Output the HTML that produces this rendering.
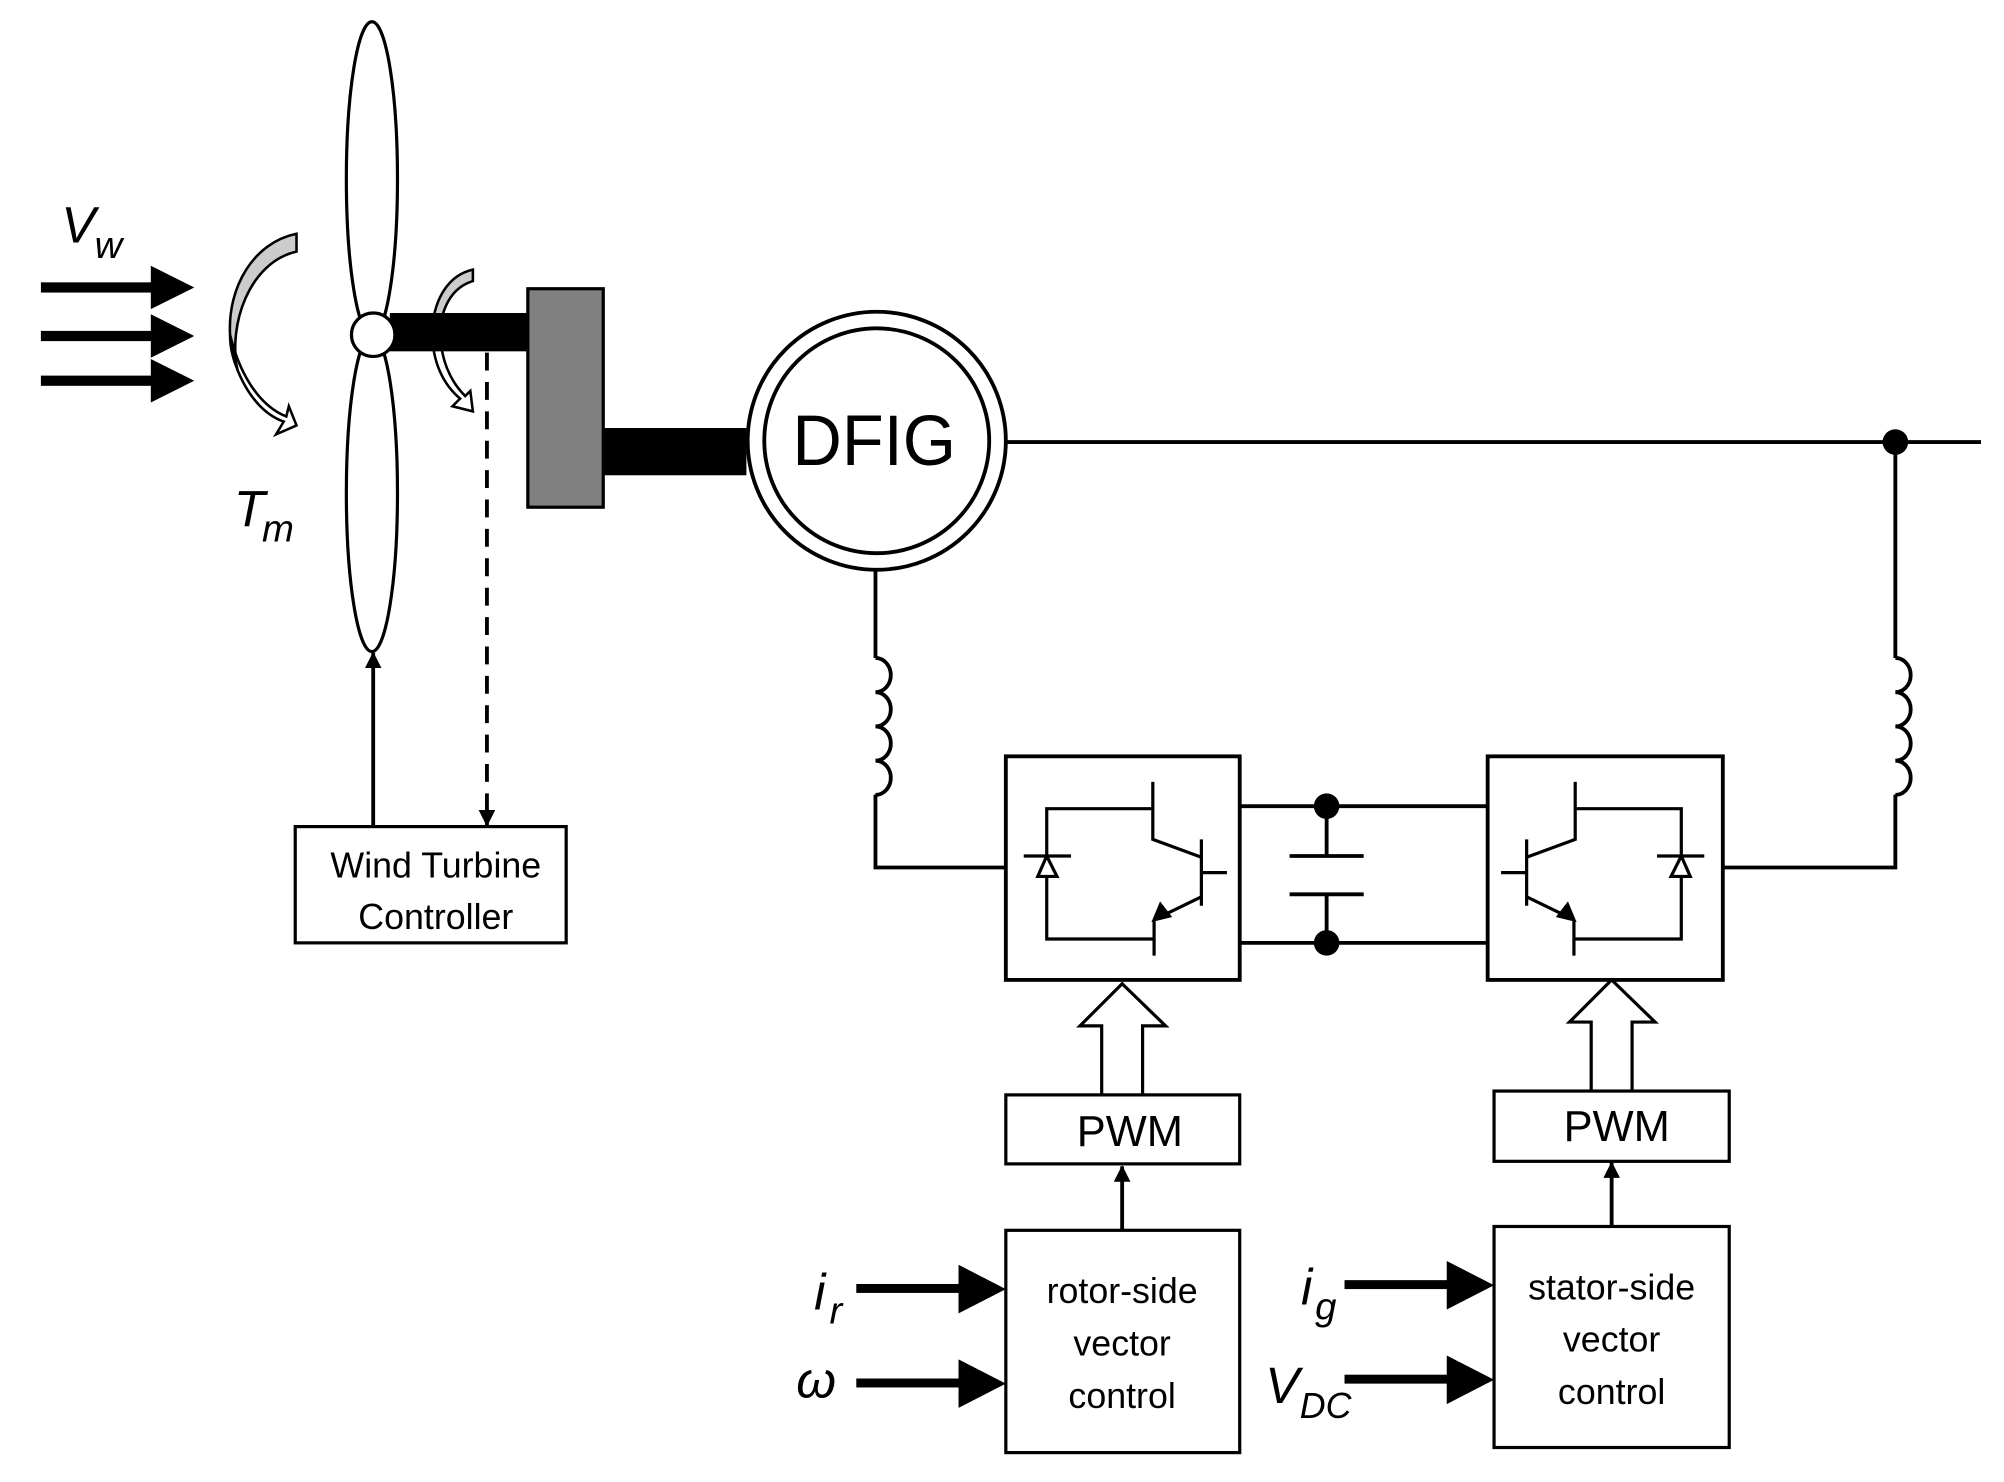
<!DOCTYPE html>
<html><head><meta charset="utf-8"><style>
html,body{margin:0;padding:0;background:#fff;}
svg{display:block;}
text{font-family:"Liberation Sans",sans-serif;fill:#000;}
</style></head><body>
<svg width="2004" height="1482" viewBox="0 0 1568 1160" preserveAspectRatio="none" xmlns="http://www.w3.org/2000/svg">
<defs>
<marker id="ah" markerWidth="13" markerHeight="13" refX="12" refY="6.5" orient="auto" markerUnits="userSpaceOnUse"><path d="M0,0 L13,6.5 L0,13 z" fill="#000"/></marker>
</defs>
<g fill="#000">
<rect x="32" y="221" width="92" height="8"/><path d="M118,208 L152,225 L118,242 z"/>
<rect x="32" y="259" width="92" height="8"/><path d="M118,246 L152,263 L118,280 z"/>
<rect x="32" y="294" width="92" height="8"/><path d="M118,281 L152,298 L118,315 z"/>
</g>
<text x="48" y="190" font-size="40" font-style="italic">V</text>
<text x="74" y="202" font-size="30" font-style="italic">w</text>
<path d="M232,183 C198,190 178,225 180,262 C180,272 182,280 186,290 C178,255 195,205 232,197 z" fill="#ccc" stroke="#000" stroke-width="2"/>
<path d="M186,290 C195,312 208,325 222,330 L216,340 L232,333 L226,318 L224,326 C204,318 188,295 180,262 z" fill="#fff" stroke="#000" stroke-width="2"/>
<path d="M370,211 C352,215 340,232 338,258 L344,258 C347,235 357,224 370,220 z" fill="#ccc" stroke="#000" stroke-width="2"/>
<path d="M338,258 C338,285 348,302 360,312 L354,318 L370,322 L368,306 L364,310 C352,298 345,282 344,258 z" fill="#fff" stroke="#000" stroke-width="2"/>
<text x="183" y="412" font-size="40" font-style="italic">T</text>
<text x="205" y="424" font-size="30" font-style="italic">m</text>
<ellipse cx="291" cy="140" rx="20" ry="123" fill="#fff" stroke="#000" stroke-width="2.5"/>
<ellipse cx="291" cy="386" rx="20" ry="124" fill="#fff" stroke="#000" stroke-width="2.5"/>
<rect x="305" y="245" width="110" height="30" fill="#000"/>
<circle cx="292" cy="262" r="17" fill="#fff" stroke="#000" stroke-width="2.5"/>
<rect x="413" y="226" width="59" height="171" fill="#808080" stroke="#000" stroke-width="2.5"/>
<rect x="472" y="335" width="112" height="37" fill="#000"/>
<circle cx="686" cy="345" r="101" fill="#fff" stroke="#000" stroke-width="3"/>
<circle cx="686" cy="345" r="88" fill="#fff" stroke="#000" stroke-width="3"/>
<text x="684" y="364" font-size="56" text-anchor="middle" textLength="128" lengthAdjust="spacingAndGlyphs">DFIG</text>
<g stroke="#000" stroke-width="3" fill="none">
<line x1="787" y1="346" x2="1550" y2="346"/>
<polyline points="1483,346 1483,515"/>
<path d="M1483,515 a12,13.4 0 1 1 0,26.8 a12,13.4 0 1 1 0,26.8 a12,13.4 0 1 1 0,26.8 a12,13.4 0 1 1 0,26.8"/>
<polyline points="1483,622 1483,679 1349,679"/>
<polyline points="685,447 685,515"/>
<path d="M685,515 a12,13.4 0 1 1 0,26.8 a12,13.4 0 1 1 0,26.8 a12,13.4 0 1 1 0,26.8 a12,13.4 0 1 1 0,26.8"/>
<polyline points="685,622 685,679 787,679"/>
<line x1="970" y1="631" x2="1164" y2="631"/>
<line x1="970" y1="738" x2="1164" y2="738"/>
<line x1="1038" y1="631" x2="1038" y2="670"/>
<line x1="1038" y1="700" x2="1038" y2="738"/>
<line x1="1009" y1="670" x2="1067" y2="670"/>
<line x1="1009" y1="700" x2="1067" y2="700"/>
<rect x="787" y="592" width="183" height="175"/>
<rect x="1164" y="592" width="184" height="175"/>
</g>
<circle cx="1483" cy="346" r="10" fill="#000"/>
<circle cx="1038" cy="631" r="10" fill="#000"/>
<circle cx="1038" cy="738" r="10" fill="#000"/>
<g stroke="#000" stroke-width="2.5" fill="none">
<polyline points="902,633 819,633 819,735 903,735"/>
<line x1="801" y1="670" x2="838" y2="670"/>
<path d="M819,670 L812,686 L827,686 z" fill="#fff"/>
<polyline points="902,612 902,657 940,671"/>
<line x1="940" y1="657" x2="940" y2="709"/>
<line x1="940" y1="683" x2="960" y2="683"/>
<line x1="940" y1="702" x2="911" y2="716"/>
<path d="M903,720 L908,708 L915,717 z" fill="#000"/>
<polyline points="903,720 903,748"/>
</g>
<g transform="translate(2134.5,0) scale(-1,1)">
<g stroke="#000" stroke-width="2.5" fill="none">
<polyline points="902,633 819,633 819,735 903,735"/>
<line x1="801" y1="670" x2="838" y2="670"/>
<path d="M819,670 L812,686 L827,686 z" fill="#fff"/>
<polyline points="902,612 902,657 940,671"/>
<line x1="940" y1="657" x2="940" y2="709"/>
<line x1="940" y1="683" x2="960" y2="683"/>
<line x1="940" y1="702" x2="911" y2="716"/>
<path d="M903,720 L908,708 L915,717 z" fill="#000"/>
<polyline points="903,720 903,748"/>
</g>
</g>
<path d="M862,857 L862,803 L845,803 L878,770 L912,803 L894,803 L894,857" fill="#fff" stroke="#000" stroke-width="2.5"/>
<path d="M1245,854 L1245,800 L1228,800 L1261,767 L1295,800 L1277,800 L1277,854" fill="#fff" stroke="#000" stroke-width="2.5"/>
<g stroke="#000" stroke-width="2.5" fill="#fff">
<rect x="787" y="857" width="183" height="54"/>
<rect x="1169" y="854" width="184" height="55"/>
<rect x="787" y="963" width="183" height="174"/>
<rect x="1169" y="960" width="184" height="173"/>
<rect x="231" y="647" width="212" height="91"/>
</g>
<text x="884" y="897" font-size="34" text-anchor="middle">PWM</text>
<text x="1265" y="893" font-size="34" text-anchor="middle">PWM</text>
<g font-size="28" text-anchor="middle">
<text x="878" y="1020">rotor-side</text><text x="878" y="1061">vector</text><text x="878" y="1102">control</text>
<text x="1261" y="1017">stator-side</text><text x="1261" y="1058">vector</text><text x="1261" y="1099">control</text>
<text x="341" y="687">Wind Turbine</text><text x="341" y="727">Controller</text>
</g>
<g stroke="#000" stroke-width="3" fill="none">
<line x1="878" y1="963" x2="878" y2="913" marker-end="url(#ah)"/>
<line x1="1261" y1="960" x2="1261" y2="910" marker-end="url(#ah)"/>
<line x1="292" y1="647" x2="292" y2="511" marker-end="url(#ah)"/>
<line x1="381" y1="276" x2="381" y2="646" stroke-dasharray="14,9" marker-end="url(#ah)"/>
</g>
<g fill="#000">
<rect x="670" y="1005" width="90" height="7"/><path d="M750,990 L787,1009 L750,1028 z"/>
<rect x="670" y="1079" width="90" height="7"/><path d="M750,1064 L787,1083 L750,1102 z"/>
<rect x="1052" y="1002" width="90" height="7"/><path d="M1132,987 L1169,1006 L1132,1025 z"/>
<rect x="1052" y="1076" width="90" height="7"/><path d="M1132,1061 L1169,1080 L1132,1099 z"/>
</g>
<text x="637" y="1025" font-size="40" font-style="italic">i</text>
<text x="649" y="1036" font-size="30" font-style="italic">r</text>
<text x="623" y="1094" font-size="40" font-style="italic">ω</text>
<text x="1018" y="1021" font-size="40" font-style="italic">i</text>
<text x="1029" y="1033" font-size="30" font-style="italic">g</text>
<text x="990" y="1098" font-size="40" font-style="italic">V</text>
<text x="1017" y="1110" font-size="28" font-style="italic">DC</text>
</svg>
</body></html>
